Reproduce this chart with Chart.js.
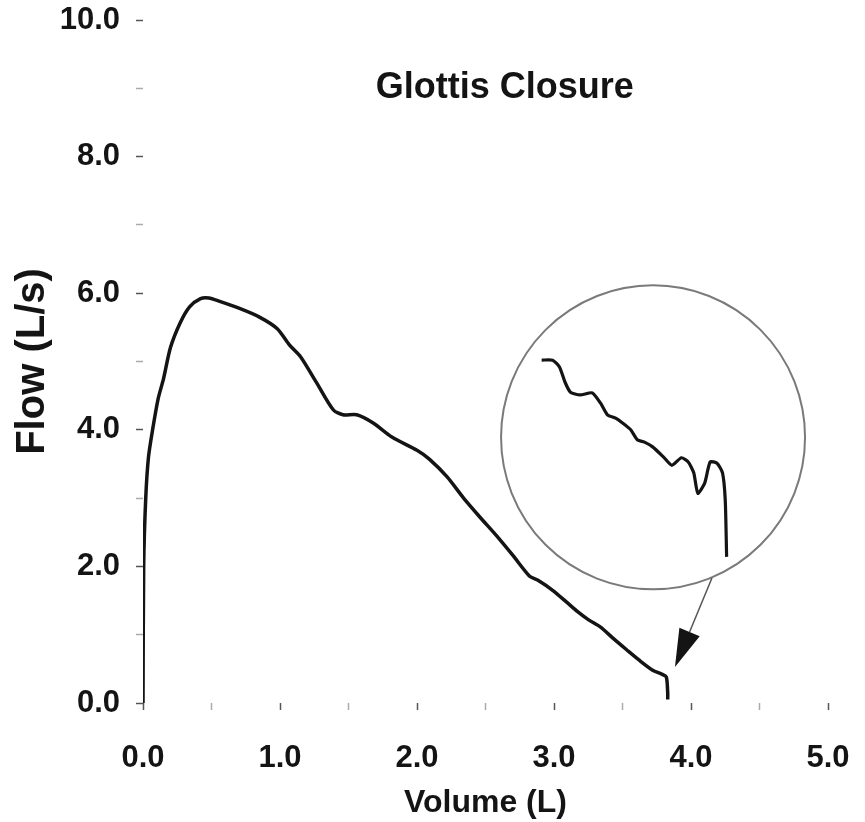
<!DOCTYPE html>
<html>
<head>
<meta charset="utf-8">
<title>Glottis Closure</title>
<script src="https://cdn.jsdelivr.net/npm/chart.js@4.4.1/dist/chart.umd.min.js"></script>
<style>
  html, body { margin:0; padding:0; background:#fff; }
  #wrap { width:865px; height:822px; }
</style>
</head>
<body>
<div id="wrap"><canvas id="chart" width="865" height="822"></canvas></div>
<script>
// flow-volume loop, expiratory limb
const volume = [0, 0.005, 0.02, 0.04, 0.07, 0.11, 0.15, 0.2, 0.27, 0.34, 0.42, 0.48, 0.56, 0.7, 0.85, 0.98, 1.07, 1.15,
  1.27, 1.39, 1.46, 1.56, 1.68, 1.82, 2.0, 2.09, 2.22, 2.34, 2.46, 2.58, 2.7, 2.82, 2.88, 2.99, 3.09, 3.17, 3.25, 3.34,
  3.43, 3.53, 3.62, 3.72, 3.79, 3.82, 3.83, 3.83];
const flow = [0, 2.0, 3.0, 3.6, 4.0, 4.45, 4.75, 5.2, 5.56, 5.8, 5.92, 5.93, 5.88, 5.78, 5.65, 5.48, 5.24, 5.07,
  4.68, 4.29, 4.22, 4.22, 4.1, 3.89, 3.7, 3.57, 3.31, 3.0, 2.72, 2.45, 2.16, 1.86, 1.8, 1.65, 1.48, 1.34, 1.22, 1.11,
  0.95, 0.78, 0.63, 0.48, 0.42, 0.38, 0.15, 0.05];

// magnified tail shown inside the circle (plotted in the same units as the picture)
const zoomVolume = [2.91, 2.99, 3.04, 3.08, 3.12, 3.19, 3.28, 3.34, 3.39, 3.45, 3.5, 3.56, 3.61, 3.66, 3.72, 3.8, 3.86,
  3.93, 3.98, 4.02, 4.05, 4.1, 4.14, 4.19, 4.23, 4.25, 4.26];
const zoomFlow = [5.02, 5.02, 4.92, 4.7, 4.55, 4.51, 4.54, 4.39, 4.22, 4.17, 4.1, 4.0, 3.85, 3.82, 3.75, 3.6, 3.48,
  3.59, 3.53, 3.37, 3.07, 3.22, 3.53, 3.51, 3.37, 2.97, 2.14];

const xTicks = [0, 1, 2, 3, 4, 5];
const yTicks = [0, 2, 4, 6, 8, 10];

const TITLE = "Glottis Closure";
const X_TITLE = "Volume (L)";
const Y_TITLE = "Flow (L/s)";

// annotation geometry (circle round the magnified trace, arrow to the end of the curve)
const LENS = { x: 3.723, y: 3.89, radius: 152 };
const ARROW = { fromX: 4.153, fromY: 1.83, toX: 3.883, toY: 0.527 };
const TITLE_AT = { x: 2.64, y: 9.0 };

const FONT = "'Liberation Sans', Arial, Helvetica, sans-serif";
const INK = "#141414";

function points(xs, ys){
  return xs.map((x, i) => ({ x, y: ys[i] }));
}

const annotations = {
  id: "annotations",
  afterDatasetsDraw(chart){
    const { ctx } = chart;
    const xs = chart.scales.x, ys = chart.scales.y;

    // circle
    ctx.save();
    ctx.beginPath();
    ctx.arc(xs.getPixelForValue(LENS.x), ys.getPixelForValue(LENS.y), LENS.radius, 0, Math.PI * 2);
    ctx.strokeStyle = "#7a7a7a";
    ctx.lineWidth = 2;
    ctx.stroke();

    // arrow
    const x1 = xs.getPixelForValue(ARROW.fromX), y1 = ys.getPixelForValue(ARROW.fromY);
    const x2 = xs.getPixelForValue(ARROW.toX), y2 = ys.getPixelForValue(ARROW.toY);
    const ang = Math.atan2(y2 - y1, x2 - x1);
    const headLen = 38, headW = 11;
    const bx = x2 - headLen * Math.cos(ang), by = y2 - headLen * Math.sin(ang);
    ctx.beginPath();
    ctx.moveTo(x1, y1);
    ctx.lineTo(bx, by);
    ctx.strokeStyle = "#555";
    ctx.lineWidth = 1.5;
    ctx.stroke();
    ctx.beginPath();
    ctx.moveTo(x2, y2);
    ctx.lineTo(bx + headW * Math.sin(ang), by - headW * Math.cos(ang));
    ctx.lineTo(bx - headW * Math.sin(ang), by + headW * Math.cos(ang));
    ctx.closePath();
    ctx.fillStyle = INK;
    ctx.fill();

    // title sits inside the plot
    ctx.font = `bold 36px ${FONT}`;
    ctx.fillStyle = INK;
    ctx.textAlign = "center";
    ctx.textBaseline = "middle";
    ctx.fillText(TITLE, xs.getPixelForValue(TITLE_AT.x), ys.getPixelForValue(TITLE_AT.y));
    ctx.restore();
  }
};

function isMajor(value, majors){
  return majors.some(m => Math.abs(m - value) < 1e-6);
}

function buildChart(){
  const c = document.getElementById("chart");
  return new Chart(c, {
    type: "scatter",
    data: {
      datasets: [
        {
          label: "Flow",
          data: points(volume, flow),
          showLine: true,
          borderColor: INK,
          borderWidth: 3.5,
          pointRadius: 0,
          tension: 0.25
        },
        {
          label: "Magnified",
          data: points(zoomVolume, zoomFlow),
          showLine: true,
          borderColor: INK,
          borderWidth: 3.2,
          pointRadius: 0,
          tension: 0.2
        }
      ]
    },
    options: {
      responsive: false,
      animation: false,
      layout: { padding: { top: 20, right: 37, left: 0, bottom: 0 } },
      plugins: { legend: { display: false }, tooltip: { enabled: false } },
      scales: {
        x: {
          type: "linear",
          min: 0, max: 5,
          afterFit(s){ s.height = 119; s.paddingLeft = 0; s.paddingRight = 0; },
          border: { display: false },
          grid: {
            drawOnChartArea: false,
            drawTicks: true,
            tickLength: 7,
            tickWidth: 1.5,
            tickColor: ctx => isMajor(ctx.tick.value, xTicks) ? "#555" : "#aaa"
          },
          ticks: {
            stepSize: 0.5,
            padding: 30,
            maxRotation: 0,
            autoSkip: false,
            color: INK,
            font: { family: FONT, size: 31, weight: "bold" },
            callback: v => isMajor(v, xTicks) ? v.toFixed(1) : ""
          },
          title: {
            display: true,
            text: X_TITLE,
            color: INK,
            font: { family: FONT, size: 32, weight: "bold" },
            padding: { top: 0, bottom: 0 }
          }
        },
        y: {
          type: "linear",
          min: 0, max: 10,
          afterFit(s){ s.width = 143; s.paddingTop = 0; s.paddingBottom = 0; },
          border: { display: false },
          grid: {
            drawOnChartArea: false,
            drawTicks: true,
            tickLength: 7,
            tickWidth: 1.5,
            tickColor: ctx => isMajor(ctx.tick.value, yTicks) ? "#555" : "#aaa"
          },
          ticks: {
            stepSize: 1,
            padding: 16,
            autoSkip: false,
            color: INK,
            font: { family: FONT, size: 31, weight: "bold" },
            callback: v => isMajor(v, yTicks) ? v.toFixed(1) : ""
          },
          title: {
            display: true,
            text: Y_TITLE,
            color: INK,
            font: { family: FONT, size: 40, weight: "bold" },
            padding: { top: 9, bottom: 0 }
          }
        }
      }
    },
    plugins: [annotations]
  });
}

buildChart();
</script>
</body>
</html>
